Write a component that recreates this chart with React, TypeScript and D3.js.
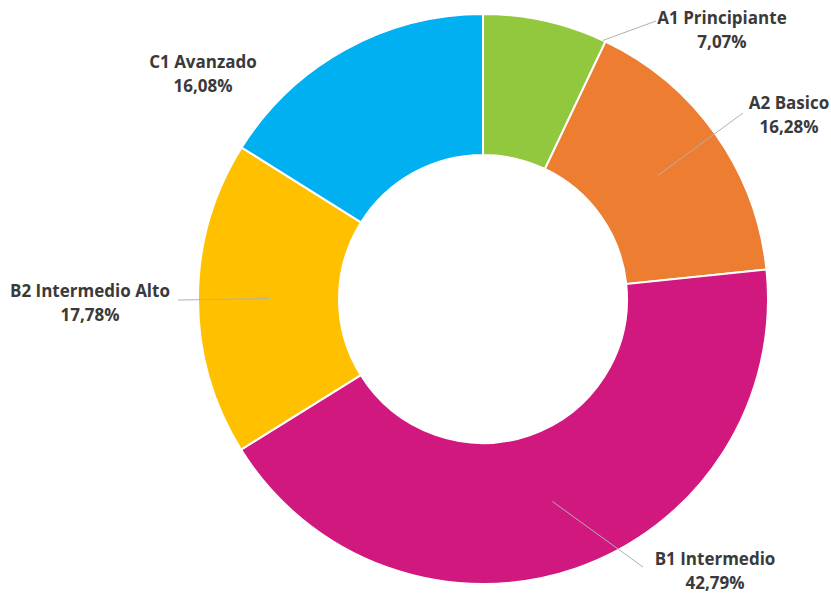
import React, { useEffect, useRef } from 'react';
import * as d3 from 'd3';

const categories = ['A1 Principiante', 'A2 Basico', 'B1 Intermedio', 'B2 Intermedio Alto', 'C1 Avanzado'];
const values = [7.07, 16.28, 42.79, 17.78, 16.08];
const colors = ['#92c83e', '#ed7d31', '#d0187f', '#ffc000', '#00b0f0'];

// label layout: text centre and first baseline, leader start radius (null = no leader)
const labelX = [722, 789, 715, 90, 203];
const labelY = [24, 109, 565, 297, 68];
const leaderR = [285, 214, 214, 214, null];

const App = () => {
  const svg = useRef(null);
  const width = 831;
  const height = 594;
  const cx = 483;
  const cy = 299;
  const outer = 285;
  const inner = 144;

  const renderChart = (svg: any) => {
    svg.selectAll('*').remove();
    const data = categories.map((c, i) => ({ name: c, value: values[i], color: colors[i] }));

    const pie = d3.pie<any>().value((d: any) => d.value).sort(null);
    const arcs = pie(data);
    const arc = d3.arc<any>().innerRadius(inner).outerRadius(outer);
    const fmt = (v: number) => d3.format('.2f')(v).replace('.', ',') + '%';

    const g = svg.append('g').attr('transform', `translate(${cx},${cy})`);
    g.selectAll('.slice')
      .data(arcs)
      .enter()
      .append('path')
      .attr('class', 'slice')
      .attr('d', arc)
      .attr('fill', (d: any) => d.data.color)
      .attr('stroke', '#fff')
      .attr('stroke-width', 2);

    const lines = svg.append('g');
    arcs.forEach((d: any, i: number) => {
      const r = leaderR[i];
      if (r == null) return;
      const a = i === 0 ? d.endAngle - 0.01 : (d.startAngle + d.endAngle) / 2;
      const x0 = cx + r * Math.sin(a);
      const y0 = cy - r * Math.cos(a);
      let x1, y1;
      const lx = labelX[i];
      const ly = labelY[i];
      if (i === 0) { x1 = lx - 66; y1 = ly - 3; }
      else if (i === 1) { x1 = lx - 46; y1 = ly + 4; }
      else if (i === 2) { x1 = lx - 72; y1 = ly + 2; }
      else { x1 = lx + 88; y1 = ly + 3; }
      lines.append('line')
        .attr('x1', x0).attr('y1', y0)
        .attr('x2', x1).attr('y2', y1)
        .attr('stroke', '#b0b0b0')
        .attr('stroke-width', 1);
    });

    const labels = svg.append('g')
      .attr('font-family', '"Open Sans", sans-serif')
      .attr('font-weight', 700)
      .attr('font-size', 17)
      .attr('fill', '#3a3a3a')
      .attr('text-anchor', 'middle');
    arcs.forEach((d: any, i: number) => {
      const t = labels.append('text').attr('x', labelX[i]).attr('y', labelY[i]);
      t.append('tspan').attr('x', labelX[i]).text(d.data.name);
      t.append('tspan').attr('x', labelX[i]).attr('dy', 24).text(fmt(d.data.value));
    });
  };

  useEffect(() => {
    renderChart(d3.select(svg.current));
  }, []);

  return (
    <svg
      ref={svg}
      width={width}
      height={height}
      style={{ position: 'absolute', left: 0, top: 0, background: '#fff' }}
    />
  );
};

export default App;
